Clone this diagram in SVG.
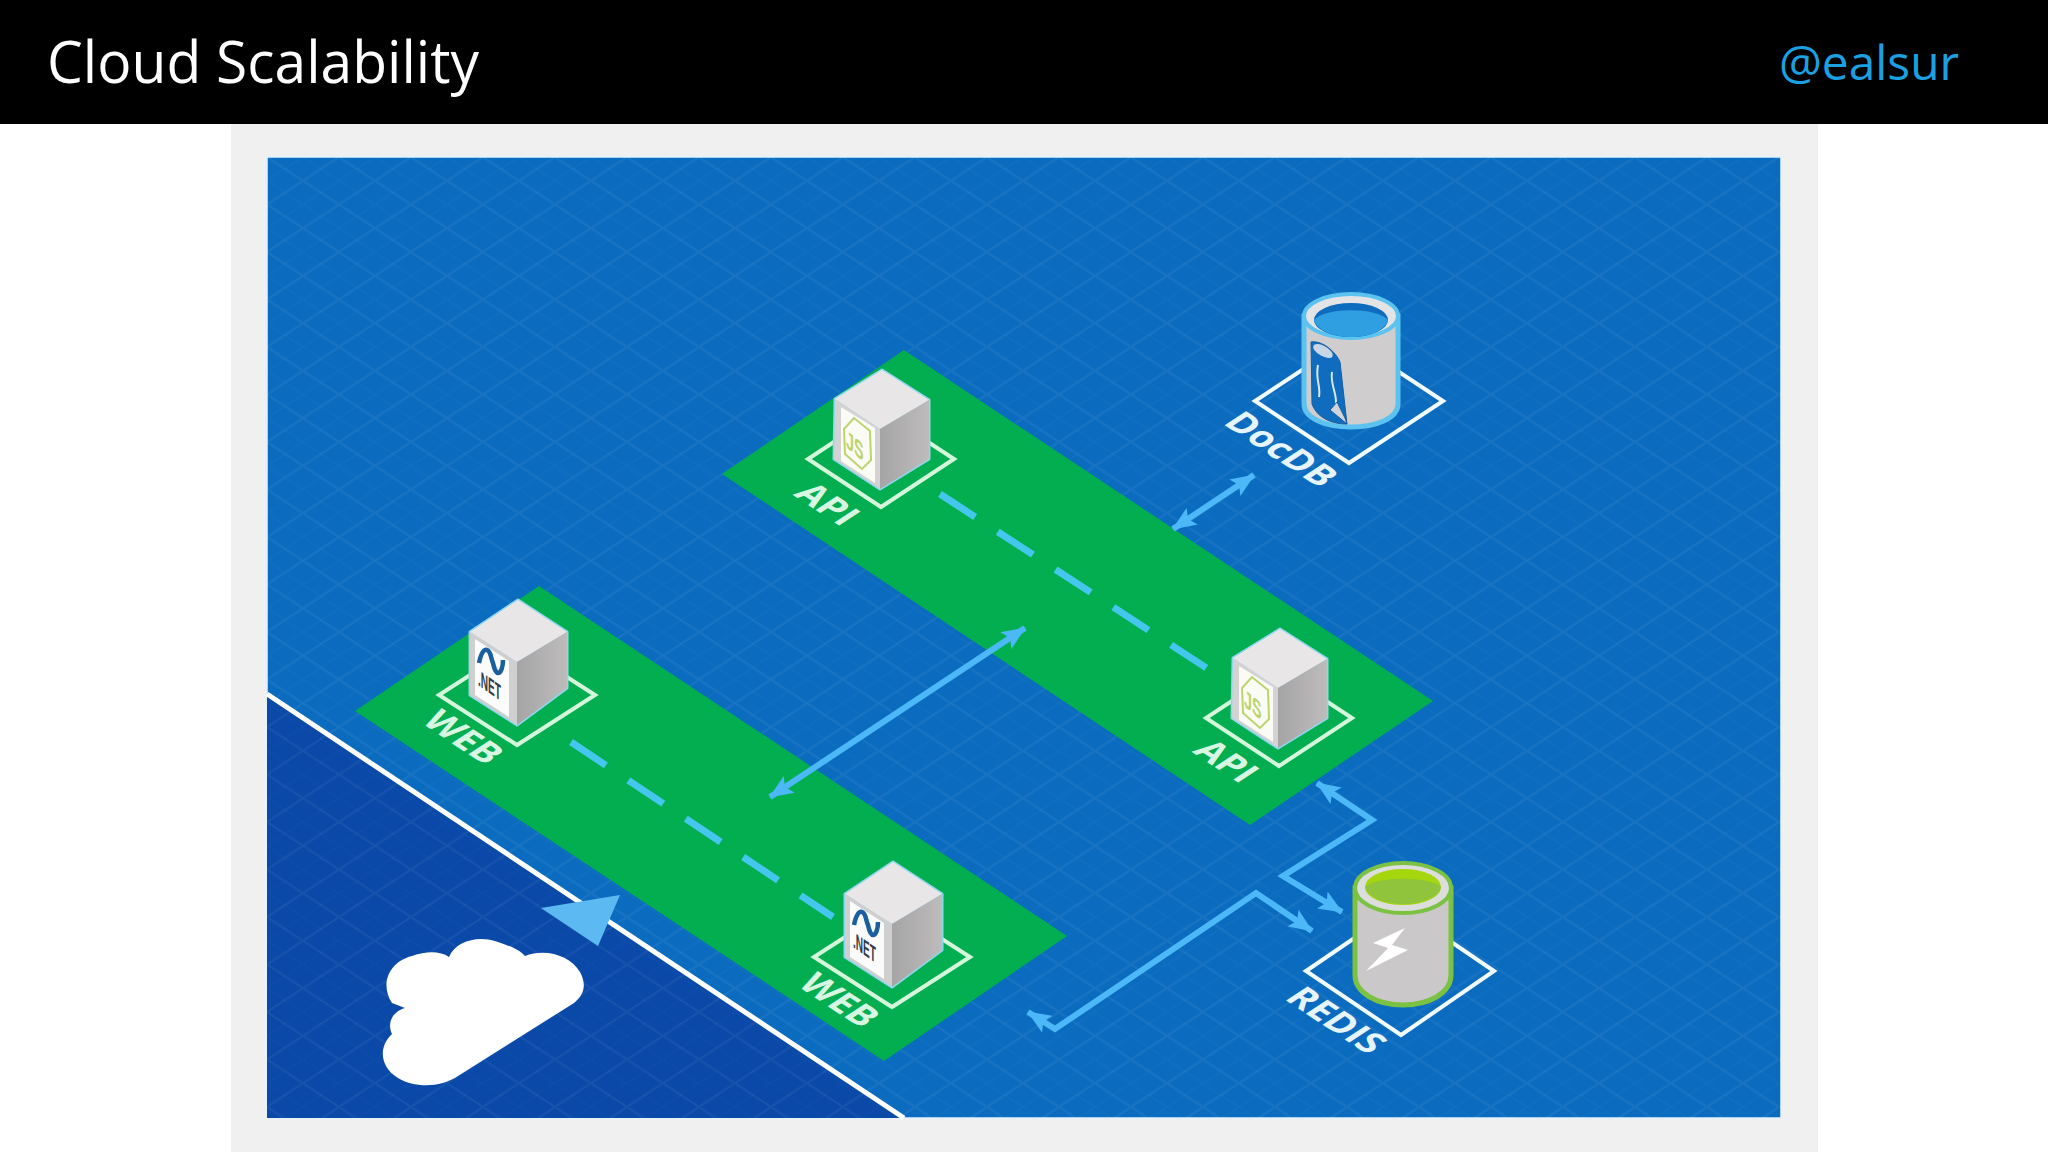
<svg xmlns="http://www.w3.org/2000/svg" width="2048" height="1152" viewBox="0 0 2048 1152">
<style>
.lbl{font-family:"Open Sans","Liberation Sans",sans-serif;font-weight:700;font-size:36px;text-anchor:middle}
.ong{fill:#d8f7e2}.onb{fill:#e6f5fd}
.base{fill:none;stroke-width:4;stroke-linejoin:miter}
.bg{stroke:#d4f7dc}.bb{stroke:#f2fbff}
.conn{fill:none;stroke:#4db8f7;stroke-width:6;stroke-linejoin:miter}
.dash{fill:none;stroke:#45c6ec;stroke-width:7;stroke-dasharray:42 27}
.net{font-family:"Liberation Sans",sans-serif;font-weight:700;font-size:14px;fill:#333b48}
.js{font-family:"Liberation Sans",sans-serif;font-weight:700;font-size:20px;fill:#bcd46e}
</style>
<defs>
<pattern id="grid" width="72" height="47.5" patternUnits="userSpaceOnUse" x="267" y="157">
<path d="M0 0L72 47.5M0 47.5L72 0" stroke="#ffffff" stroke-opacity=".055" stroke-width="2" fill="none"/>
<path d="M36 0L72 23.75M0 23.75L36 47.5M36 0L0 23.75M72 23.75L36 47.5" stroke="#ffffff" stroke-opacity=".02" stroke-width="1" fill="none"/>
</pattern>
<linearGradient id="side" x1="0" x2="1" y1="0" y2="0"><stop offset="0" stop-color="#a6a5a6"/><stop offset="1" stop-color="#bdbbbc"/></linearGradient>
<marker id="ah" viewBox="0 0 24 20" refX="23" refY="10" markerWidth="24" markerHeight="20" markerUnits="userSpaceOnUse" orient="auto-start-reverse"><path d="M0 0L24 10L0 20L5 10Z" fill="#4db8f7"/></marker>
<g id="box-net">
<path d="M1-95L50-63L50-7L0 30L-47 0L-47-63Z" fill="#8fd6ee" stroke="#8fd6ee" stroke-width="3" stroke-linejoin="round"/>
<path d="M1-95L50-63L0-33L-47-63Z" fill="#e8e6e7"/>
<path d="M50-63L50-7L0 30L0-33Z" fill="url(#side)"/>
<path d="M-47-63L0-33L0 30L-47 0Z" fill="#d0cfd0"/>
<path d="M-42-56L-8-34L-8 22L-42 0Z" fill="#fbfbfb"/>
<path d="M-38-32C-36-42-33-46-30-45C-26-44-26-36-24-32C-23-27-21-22-19-22C-16-22-14-28-14-35" fill="none" stroke="#1c5f9e" stroke-width="4.5"/>
</g>
<g id="box-js">
<path d="M1-89L48-59L48 0L-1 30L-47 0L-46-60Z" fill="#8fd6ee" stroke="#8fd6ee" stroke-width="3" stroke-linejoin="round"/>
<path d="M1-89L48-59L-1-30L-46-60Z" fill="#e9e6e8"/>
<path d="M48-59L48 0L-1 30L-1-30Z" fill="url(#side)"/>
<path d="M-46-60L-1-30L-1 30L-47 0Z" fill="#d4d2d3"/>
<path d="M-40-52L-6-31L-6 24L-40 2Z" fill="#fbfbf6"/>
<path d="M-37-30L-27-41L-11-28L-10 1L-19 10L-36-5Z" fill="none" stroke="#bcd46e" stroke-width="2"/>
</g>
</defs>
<rect width="2048" height="1152" fill="#ffffff"/>
<rect x="231" y="123" width="1587" height="1029" fill="#f0f0f0"/>
<rect width="2048" height="124" fill="#000000"/>
<text x="47" y="83" font-family="Open Sans, Liberation Sans, sans-serif" font-size="58" fill="#ffffff" textLength="432" lengthAdjust="spacingAndGlyphs">Cloud Scalability</text>
<text x="1779" y="80" font-family="Open Sans, Liberation Sans, sans-serif" font-size="47" fill="#1ba1e2" textLength="180" lengthAdjust="spacingAndGlyphs">@ealsur</text>
<rect x="267" y="157" width="1514" height="961" fill="#0b6cbf" stroke="#dff3fb" stroke-width="1.5"/>
<path d="M267 694L904 1118L267 1118Z" fill="#0a49a8"/>
<rect x="267" y="157" width="1514" height="961" fill="url(#grid)"/>
<path d="M267 694L904 1118" fill="none" stroke="#ffffff" stroke-width="5"/>
<g id="zones">
<path d="M904 350L1433 701L1250 825L722 474Z" fill="#03ae50"/>
<path d="M539 586L1067 936L884 1061L355 711Z" fill="#03ae50"/>
</g>
<g id="connectors">
<line class="dash" x1="940" y1="494" x2="1208" y2="669"/>
<line class="dash" x1="571" y1="742" x2="833" y2="917"/>
<path class="conn" d="M1173 529L1254 475" marker-start="url(#ah)" marker-end="url(#ah)"/>
<path class="conn" d="M770 797L1025 628" marker-start="url(#ah)" marker-end="url(#ah)"/>
<path class="conn" d="M1317 783L1372 820L1283 876L1342 912" marker-start="url(#ah)" marker-end="url(#ah)"/>
<path class="conn" d="M1028 1012L1055 1029L1256 893L1312 931" marker-start="url(#ah)" marker-end="url(#ah)"/>
<path d="M541 908L620 895L598 946Z" fill="#5cb9f1"/>
</g>
<g id="api-1" transform="translate(881 459)">
<path class="base bg" d="M0-48L73 0L0 48L-73 0Z"/>
<use href="#box-js"/>
<text class="js" transform="matrix(.72 .6 0 1.25 -35 -12)">JS</text>
</g>
<text class="lbl ong" transform="matrix(.83 .55 -.83 .55 817 511)">API</text>
<g id="api-2" transform="translate(1279 718)">
<path class="base bg" d="M0-48L73 0L0 48L-73 0Z"/>
<use href="#box-js"/>
<text class="js" transform="matrix(.72 .6 0 1.25 -35 -12)">JS</text>
</g>
<text class="lbl ong" transform="matrix(.83 .55 -.83 .55 1216 768)">API</text>
<g id="web-1" transform="translate(517 695)">
<path class="base bg" d="M0-50L78 0L0 50L-78 0Z"/>
<use href="#box-net"/>
<text class="net" transform="matrix(.72 .5 0 1.6 -39 -10)">.NET</text>
</g>
<text class="lbl ong" transform="matrix(.83 .55 -.83 .55 453 744)">WEB</text>
<g id="web-2" transform="translate(892 957)">
<path class="base bg" d="M0-50L78 0L0 50L-78 0Z"/>
<use href="#box-net"/>
<text class="net" transform="matrix(.72 .5 0 1.6 -39 -10)">.NET</text>
</g>
<text class="lbl ong" transform="matrix(.83 .55 -.83 .55 829 1007)">WEB</text>
<g id="docdb">
<path class="base bb" d="M1349 339L1443 401L1349 463L1255 401Z"/>
<path d="M1304 316V404C1304 418 1325 427 1351 427C1377 427 1398 418 1398 404V316Z" fill="#cfcdcd" stroke="#5cc3f0" stroke-width="5"/>
<ellipse cx="1351" cy="316" rx="47" ry="22" fill="#e4e3e5" stroke="#5cc3f0" stroke-width="4"/>
<ellipse cx="1351" cy="320" rx="37" ry="17" fill="#0d6cbd"/>
<path d="M1314 320C1325 307 1377 307 1388 320C1385 331 1368 337 1351 337C1335 337 1317 331 1314 320Z" fill="#2f9fe2"/>
<path d="M1311 342C1322 340 1336 352 1340 362L1347 424C1335 424 1318 420 1312 404Z" fill="#0f6cbe" stroke="#1a5e9f" stroke-width="1"/>
<ellipse cx="1323" cy="351" rx="11" ry="5" transform="rotate(30 1323 351)" fill="#c9d6e6"/>
<path d="M1318 365C1315 380 1321 385 1319 397M1332 372C1330 385 1337 392 1336 405" fill="none" stroke="#d8e6f5" stroke-width="2"/>
<path d="M1330 410L1337 402L1345 418L1347 424Z" fill="#cfd3da" stroke="#1a5e9f" stroke-width="1"/>
</g>
<text class="lbl onb" transform="matrix(.83 .55 -.83 .55 1271 456)">DocDB</text>
<g id="redis">
<path class="base bb" d="M1400 907L1494 971L1401 1035L1306 971Z"/>
<path d="M1355 888V975C1355 993 1377 1005 1403 1005C1429 1005 1451 993 1451 975V888Z" fill="#cac8c8" stroke="#7cc242" stroke-width="5"/>
<ellipse cx="1403" cy="888" rx="48" ry="25" fill="#dedddd" stroke="#7cc242" stroke-width="4"/>
<ellipse cx="1403" cy="887" rx="38" ry="18" fill="#a5d60e"/>
<path d="M1365 887C1375 876 1431 876 1441 887C1438 898 1420 904 1403 904C1386 904 1368 898 1365 887Z" fill="#8fc43c"/>
<path d="M1405 928L1373 943L1388 948L1366 971L1408 950L1392 945Z" fill="#ffffff"/>
</g>
<text class="lbl onb" transform="matrix(.83 .55 -.83 .55 1326 1027)">REDIS</text>
<path id="cloud" d="M392 1003C380 985 388 962 412 956C427 951 440 951 449 957C456 940 480 935 498 942C510 946 520 950 525 956C545 948 570 955 580 972C587 985 584 995 574 1003L458 1076C440 1088 415 1088 398 1078C380 1067 378 1047 392 1034C387 1023 392 1012 405 1008Z" fill="#ffffff"/>
</svg>
